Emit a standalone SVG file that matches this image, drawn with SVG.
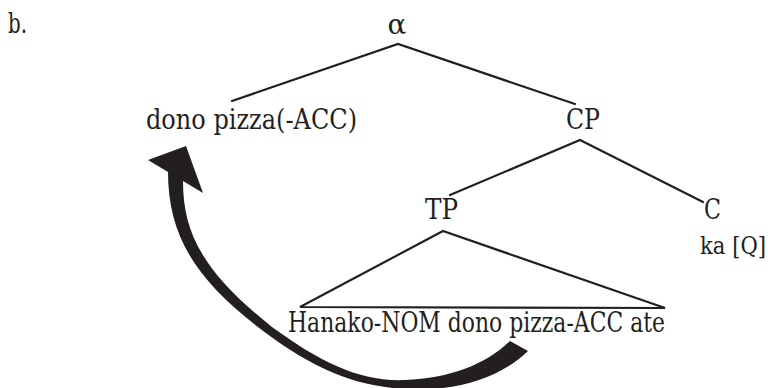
<svg xmlns="http://www.w3.org/2000/svg" width="776" height="388" viewBox="0 0 776 388">
<style>
.t{font-family:'DejaVu Serif','Liberation Serif','Times New Roman',Times,serif;font-size:28px;fill:#231f20}
.e{stroke:#231f20;stroke-width:2.2;fill:none;stroke-linecap:round}
</style>
<rect width="776" height="388" fill="#fff"/>
<g class="t">
<text x="8" y="33" textLength="19" lengthAdjust="spacingAndGlyphs">b.</text>
<g id="alpha"><text x="397" y="34" text-anchor="middle">α</text></g>
<g id="dp"><text x="146" y="129" textLength="211" lengthAdjust="spacingAndGlyphs">dono pizza(-ACC)</text></g>
<g id="CP"><text x="566" y="129" textLength="34" lengthAdjust="spacingAndGlyphs">CP</text></g>
<g id="TP"><text x="425" y="219" textLength="33" lengthAdjust="spacingAndGlyphs">TP</text></g>
<g id="C"><text x="704" y="219" textLength="17" lengthAdjust="spacingAndGlyphs">C</text><text x="700" y="254" font-size="23.5" textLength="66" lengthAdjust="spacingAndGlyphs">ka [Q]</text></g>
<g id="tri">
<path class="e" d="M300,307 L443,231 L665,308 Z"/>
<text x="288" y="332" textLength="377" lengthAdjust="spacingAndGlyphs">Hanako-NOM dono pizza-ACC ate</text>
</g>
</g>
<g id="connectors">
<path class="e" d="M232,101 L398,44 L575,104"/>
<path class="e" d="M450,195 L580,140 L703,202"/>
<path fill="#231f20" d="M148,160 L186,146 L203,193 L183,181 C183,230 200,270 272,327 C320,362 360,382 405,380 C450,378 485,365 510,341 L528,351 C500,378 455,392 405,389 C350,386 310,365 270,336 C200,285 168,240 168,172 Z"/>
</g>
</svg>
